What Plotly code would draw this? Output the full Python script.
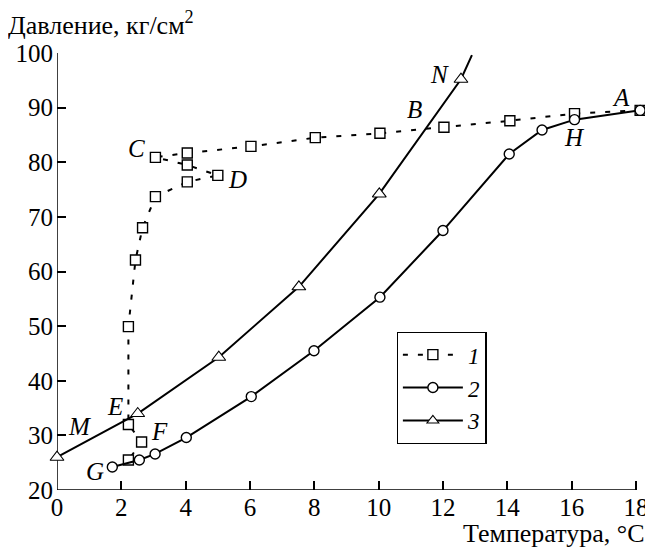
import plotly.graph_objects as go

# Series 1 (squares, dotted)
s1_x = [18.13, 16.09, 14.08, 12.03, 10.04, 8.03, 6.03, 4.05, 3.06, 4.05, 5.0, 4.05, 3.06, 2.66, 2.44, 2.22, 2.22, 2.63, 2.22]
s1_y = [89.5, 88.9, 87.6, 86.4, 85.3, 84.5, 82.9, 81.7, 80.9, 79.5, 77.6, 76.4, 73.7, 68.0, 62.1, 49.9, 32.0, 28.8, 25.5]
# Series 2 (circles)
s2_x = [1.72, 2.56, 3.05, 4.02, 6.04, 7.99, 10.04, 12.0, 14.06, 15.08, 16.09, 18.13]
s2_y = [24.2, 25.5, 26.6, 29.6, 37.1, 45.5, 55.3, 67.5, 81.5, 85.9, 87.8, 89.5]
# Series 3 (triangles); last point is the line end without marker
s3_x = [0.0, 2.51, 5.03, 7.52, 10.02, 12.56, 12.9]
s3_y = [26.0, 34.0, 44.3, 57.2, 74.2, 95.2, 99.6]
s3_marker = [True, True, True, True, True, True, False]

# Point letters
lab_text = ["A", "N", "B", "H", "C", "D", "E", "F", "G", "M"]
lab_x = [17.53, 11.9, 11.1, 16.1, 2.46, 5.6, 1.79, 3.18, 1.17, 0.71]
lab_y = [91.8, 96.0, 89.6, 84.5, 82.6, 76.8, 35.3, 30.7, 23.4, 31.7]

x_ticks = [0, 2, 4, 6, 8, 10, 12, 14, 16, 18]
y_ticks = [20, 30, 40, 50, 60, 70, 80, 90, 100]

FONT = "Liberation Serif"
OFF = 8  # browser body margin

fig = go.Figure()
fig.add_trace(go.Scatter(
    x=s1_x, y=s1_y, mode="lines+markers", name="1",
    line=dict(color="black", width=2, dash="5px,10px"),
    marker=dict(symbol="square", size=10, color="white", line=dict(color="black", width=1.4)),
    cliponaxis=False))
fig.add_trace(go.Scatter(
    x=s2_x, y=s2_y, mode="lines+markers", name="2",
    line=dict(color="black", width=2),
    marker=dict(symbol="circle", size=10, color="white", line=dict(color="black", width=1.4)),
    cliponaxis=False))
fig.add_trace(go.Scatter(
    x=s3_x, y=s3_y, mode="lines+markers", name="3",
    line=dict(color="black", width=2),
    marker=dict(symbol="triangle-up", size=[12 if m else 0 for m in s3_marker],
                color="#ffffff", opacity=1, line=dict(color="black", width=1.1)),
    cliponaxis=False))

for t, x, y in zip(lab_text, lab_x, lab_y):
    fig.add_annotation(x=x, y=y, text=t, showarrow=False,
                       font=dict(family=FONT, size=25, color="black", style="italic"))

# axis lines
fig.add_shape(type="line", x0=0, x1=18, y0=20, y1=20, xref="x", yref="y",
              line=dict(color="black", width=1.5), layer="below")
fig.add_shape(type="line", x0=0, x1=0, y0=20, y1=100, xref="x", yref="y",
              line=dict(color="black", width=1.5), layer="below")

fig.add_annotation(xref="paper", yref="paper", x=-51/591, y=1 + 30/437, xanchor="left", yanchor="middle",
                   text="Давление, кг/см<sup>2</sup>", showarrow=False,
                   font=dict(family=FONT, size=26, color="black"))
fig.add_annotation(xref="paper", yref="paper", x=1.005, y=-43/437, xanchor="right", yanchor="middle",
                   text="Температура, °C", showarrow=False,
                   font=dict(family=FONT, size=26, color="black"))

fig.update_layout(
    width=653 - OFF, height=548 - OFF,
    margin=dict(l=57 - OFF, r=5, t=53 - OFF, b=58),
    plot_bgcolor="white", paper_bgcolor="white",
    showlegend=True,
    legend=dict(x=(399 - 57) / 591, y=(490 - 332) / 437, xanchor="left", yanchor="top",
                bordercolor="black", borderwidth=1.2, bgcolor="white",
                font=dict(family=FONT, size=23, color="black", style="italic"),
                itemwidth=60, tracegroupgap=0),
    xaxis=dict(range=[0, 18.25], tickvals=x_ticks, ticks="inside", ticklen=9, tickwidth=1.5,
               tickcolor="black", showgrid=False, zeroline=False, showline=False,
               tickfont=dict(family=FONT, size=25, color="black")),
    yaxis=dict(range=[20, 100], tickvals=y_ticks, ticks="inside", ticklen=9, tickwidth=1.5,
               tickcolor="black", showgrid=False, zeroline=False, showline=False,
               tickfont=dict(family=FONT, size=25, color="black"), ticklabelstandoff=3),
)

fig.write_html("out.html")
